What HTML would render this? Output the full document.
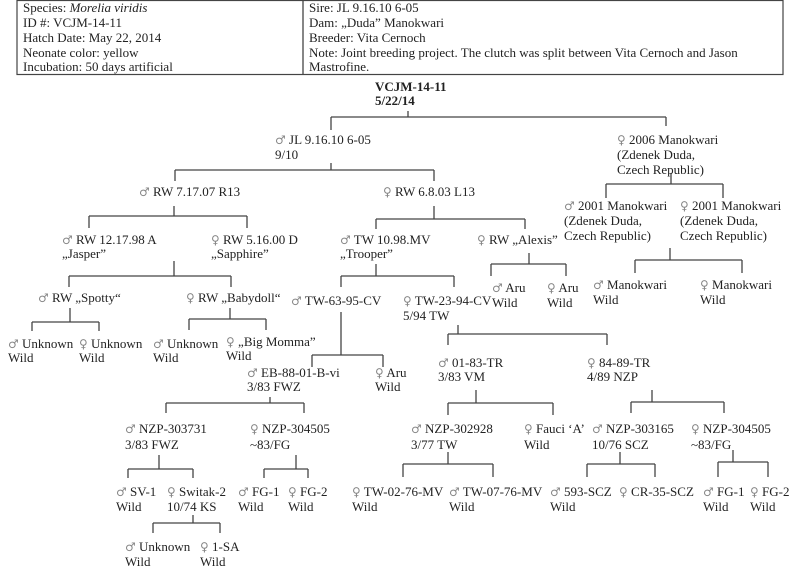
<!DOCTYPE html>
<html><head><meta charset="utf-8"><style>
html,body{margin:0;padding:0;background:#fff;width:800px;height:573px;overflow:hidden}
svg{display:block}
text{font-family:"Liberation Serif","DejaVu Serif",serif;font-size:13px;fill:#222}
.s{fill:#888;font-family:"DejaVu Sans",sans-serif;font-size:12px}
.b{font-weight:bold}
line{stroke:#444;stroke-width:1.3}
</style></head><body>
<svg width="800" height="573" viewBox="0 0 800 573" xmlns="http://www.w3.org/2000/svg">
<rect x="17" y="0.5" width="766" height="74" fill="none" stroke="#444" stroke-width="1.2"/>
<line x1="303" y1="0" x2="303" y2="74"/>
<text x="23" y="12">Species:  <tspan font-style="italic">Morelia viridis</tspan></text>
<text x="23" y="27">ID #:  VCJM-14-11</text>
<text x="23" y="42">Hatch Date:  May 22, 2014</text>
<text x="23" y="57">Neonate color:  yellow</text>
<text x="23" y="71">Incubation: 50 days artificial</text>
<text x="309" y="12">Sire:  JL 9.16.10 6-05</text>
<text x="309" y="27">Dam: „Duda” Manokwari</text>
<text x="309" y="42">Breeder: Vita Cernoch</text>
<text x="309" y="57">Note: Joint breeding project. The clutch was split between Vita Cernoch and Jason</text>
<text x="309" y="71">Mastrofine.</text>

<text x="375" y="91" class="b">VCJM-14-11</text>
<text x="375" y="105" class="b">5/22/14</text>

<g>
<line x1="408" y1="111" x2="408" y2="117"/><line x1="331" y1="117" x2="666" y2="117"/><line x1="331" y1="117" x2="331" y2="130"/><line x1="666" y1="117" x2="666" y2="126"/>
<line x1="331" y1="163" x2="331" y2="170"/><line x1="175" y1="170" x2="434" y2="170"/><line x1="175" y1="170" x2="175" y2="181"/><line x1="434" y1="170" x2="434" y2="181"/>
<line x1="671" y1="173" x2="671" y2="184"/><line x1="606" y1="184" x2="723" y2="184"/><line x1="606" y1="184" x2="606" y2="198"/><line x1="723" y1="184" x2="723" y2="198"/>
<line x1="174" y1="206" x2="174" y2="216"/><line x1="89" y1="216" x2="247" y2="216"/><line x1="89" y1="216" x2="89" y2="228"/><line x1="247" y1="216" x2="247" y2="228"/>
<line x1="434" y1="206" x2="434" y2="219"/><line x1="376" y1="219" x2="525" y2="219"/><line x1="376" y1="219" x2="376" y2="229"/><line x1="525" y1="219" x2="525" y2="229"/>
<line x1="174" y1="261" x2="174" y2="276"/><line x1="69" y1="276" x2="231" y2="276"/><line x1="69" y1="276" x2="69" y2="287"/><line x1="231" y1="276" x2="231" y2="287"/>
<line x1="376" y1="264" x2="376" y2="276"/><line x1="341" y1="276" x2="454" y2="276"/><line x1="341" y1="276" x2="341" y2="287"/><line x1="454" y1="276" x2="454" y2="287"/>
<line x1="529" y1="253" x2="529" y2="264"/><line x1="491" y1="264" x2="566" y2="264"/><line x1="491" y1="264" x2="491" y2="276"/><line x1="566" y1="264" x2="566" y2="276"/>
<line x1="670" y1="248" x2="670" y2="260"/><line x1="635" y1="260" x2="742" y2="260"/><line x1="635" y1="260" x2="635" y2="273"/><line x1="742" y1="260" x2="742" y2="273"/>
<line x1="70" y1="308" x2="70" y2="322"/><line x1="32" y1="322" x2="99" y2="322"/><line x1="32" y1="322" x2="32" y2="331"/><line x1="99" y1="322" x2="99" y2="331"/>
<line x1="230" y1="308" x2="230" y2="319"/><line x1="189" y1="319" x2="266" y2="319"/><line x1="189" y1="319" x2="189" y2="330"/><line x1="266" y1="319" x2="266" y2="330"/>
<line x1="341" y1="312" x2="341" y2="355"/><line x1="312" y1="355" x2="383" y2="355"/><line x1="312" y1="355" x2="312" y2="367"/><line x1="383" y1="355" x2="383" y2="367"/>
<line x1="458" y1="325" x2="458" y2="334"/><line x1="448" y1="334" x2="607" y2="334"/><line x1="448" y1="334" x2="448" y2="345"/><line x1="607" y1="334" x2="607" y2="345"/>
<line x1="270" y1="397" x2="270" y2="403"/><line x1="166" y1="403" x2="304" y2="403"/><line x1="166" y1="403" x2="166" y2="413"/><line x1="304" y1="403" x2="304" y2="413"/>
<line x1="476" y1="390" x2="476" y2="403"/><line x1="448" y1="403" x2="553" y2="403"/><line x1="448" y1="403" x2="448" y2="415"/><line x1="553" y1="403" x2="553" y2="415"/>
<line x1="652" y1="390" x2="652" y2="402"/><line x1="631" y1="402" x2="724" y2="402"/><line x1="631" y1="402" x2="631" y2="413"/><line x1="724" y1="402" x2="724" y2="413"/>
<line x1="159" y1="455" x2="159" y2="469"/><line x1="128" y1="469" x2="193" y2="469"/><line x1="128" y1="469" x2="128" y2="478"/><line x1="193" y1="469" x2="193" y2="478"/>
<line x1="296" y1="455" x2="296" y2="469"/><line x1="264" y1="469" x2="308" y2="469"/><line x1="264" y1="469" x2="264" y2="478"/><line x1="308" y1="469" x2="308" y2="478"/>
<line x1="448" y1="452" x2="448" y2="464"/><line x1="403" y1="464" x2="493" y2="464"/><line x1="403" y1="464" x2="403" y2="477"/><line x1="493" y1="464" x2="493" y2="477"/>
<line x1="620" y1="452" x2="620" y2="464"/><line x1="587" y1="464" x2="655" y2="464"/><line x1="587" y1="464" x2="587" y2="477"/><line x1="655" y1="464" x2="655" y2="477"/>
<line x1="733" y1="450" x2="733" y2="462"/><line x1="718" y1="462" x2="768" y2="462"/><line x1="718" y1="462" x2="718" y2="477"/><line x1="768" y1="462" x2="768" y2="477"/>
<line x1="193" y1="515" x2="193" y2="523"/><line x1="153" y1="523" x2="220" y2="523"/><line x1="153" y1="523" x2="153" y2="533"/><line x1="220" y1="523" x2="220" y2="533"/>
</g>

<text x="275" y="144"><tspan class="s">♂</tspan> JL 9.16.10 6-05</text><text x="275" y="159">9/10</text>
<text x="617" y="144"><tspan class="s">♀</tspan> 2006 Manokwari</text><text x="617" y="159">(Zdenek Duda,</text><text x="617" y="174">Czech Republic)</text>
<text x="139" y="196"><tspan class="s">♂</tspan> RW 7.17.07 R13</text>
<text x="383" y="196"><tspan class="s">♀</tspan> RW 6.8.03 L13</text>
<text x="564" y="210"><tspan class="s">♂</tspan> 2001 Manokwari</text><text x="564" y="225">(Zdenek Duda,</text><text x="564" y="240">Czech Republic)</text>
<text x="680" y="210"><tspan class="s">♀</tspan> 2001 Manokwari</text><text x="680" y="225">(Zdenek Duda,</text><text x="680" y="240">Czech Republic)</text>
<text x="62" y="244"><tspan class="s">♂</tspan> RW 12.17.98 A</text><text x="62" y="258">„Jasper”</text>
<text x="211" y="244"><tspan class="s">♀</tspan> RW 5.16.00 D</text><text x="211" y="258">„Sapphire”</text>
<text x="340" y="244"><tspan class="s">♂</tspan> TW 10.98.MV</text><text x="340" y="258">„Trooper”</text>
<text x="477" y="244"><tspan class="s">♀</tspan> RW „Alexis”</text>
<text x="492" y="292"><tspan class="s">♂</tspan> Aru</text><text x="492" y="307">Wild</text>
<text x="547" y="292"><tspan class="s">♀</tspan> Aru</text><text x="547" y="307">Wild</text>
<text x="593" y="289"><tspan class="s">♂</tspan> Manokwari</text><text x="593" y="304">Wild</text>
<text x="700" y="289"><tspan class="s">♀</tspan> Manokwari</text><text x="700" y="304">Wild</text>
<text x="38" y="302"><tspan class="s">♂</tspan> RW „Spotty“</text>
<text x="186" y="302"><tspan class="s">♀</tspan> RW „Babydoll“</text>
<text x="291" y="305"><tspan class="s">♂</tspan> TW-63-95-CV</text>
<text x="403" y="305"><tspan class="s">♀</tspan> TW-23-94-CV</text><text x="403" y="320">5/94 TW</text>
<text x="8" y="348"><tspan class="s">♂</tspan> Unknown</text><text x="8" y="362">Wild</text>
<text x="79" y="348"><tspan class="s">♀</tspan> Unknown</text><text x="79" y="362">Wild</text>
<text x="153" y="348"><tspan class="s">♂</tspan> Unknown</text><text x="153" y="362">Wild</text>
<text x="226" y="346"><tspan class="s">♀</tspan> „Big Momma”</text><text x="226" y="360">Wild</text>
<text x="438" y="367"><tspan class="s">♂</tspan> 01-83-TR</text><text x="438" y="381">3/83 VM</text>
<text x="587" y="367"><tspan class="s">♀</tspan> 84-89-TR</text><text x="587" y="381">4/89 NZP</text>
<text x="247" y="377"><tspan class="s">♂</tspan> EB-88-01-B-vi</text><text x="247" y="391">3/83 FWZ</text>
<text x="375" y="377"><tspan class="s">♀</tspan> Aru</text><text x="375" y="391">Wild</text>
<text x="125" y="433"><tspan class="s">♂</tspan> NZP-303731</text><text x="125" y="449">3/83 FWZ</text>
<text x="250" y="433"><tspan class="s">♀</tspan> NZP-304505</text><text x="250" y="449">~83/FG</text>
<text x="411" y="433"><tspan class="s">♂</tspan> NZP-302928</text><text x="411" y="449">3/77 TW</text>
<text x="524" y="433"><tspan class="s">♀</tspan> Fauci ‘A’</text><text x="524" y="449">Wild</text>
<text x="592" y="433"><tspan class="s">♂</tspan> NZP-303165</text><text x="592" y="449">10/76 SCZ</text>
<text x="691" y="433"><tspan class="s">♀</tspan> NZP-304505</text><text x="691" y="449">~83/FG</text>
<text x="116" y="496"><tspan class="s">♂</tspan> SV-1</text><text x="116" y="511">Wild</text>
<text x="167" y="496"><tspan class="s">♀</tspan> Switak-2</text><text x="167" y="511">10/74 KS</text>
<text x="238" y="496"><tspan class="s">♂</tspan> FG-1</text><text x="238" y="511">Wild</text>
<text x="288" y="496"><tspan class="s">♀</tspan> FG-2</text><text x="288" y="511">Wild</text>
<text x="352" y="496"><tspan class="s">♀</tspan> TW-02-76-MV</text><text x="352" y="511">Wild</text>
<text x="449" y="496"><tspan class="s">♂</tspan> TW-07-76-MV</text><text x="449" y="511">Wild</text>
<text x="550" y="496"><tspan class="s">♂</tspan> 593-SCZ</text><text x="550" y="511">Wild</text>
<text x="619" y="496"><tspan class="s">♀</tspan> CR-35-SCZ</text>
<text x="703" y="496"><tspan class="s">♂</tspan> FG-1</text><text x="703" y="511">Wild</text>
<text x="750" y="496"><tspan class="s">♀</tspan> FG-2</text><text x="750" y="511">Wild</text>
<text x="125" y="551"><tspan class="s">♂</tspan> Unknown</text><text x="125" y="566">Wild</text>
<text x="200" y="551"><tspan class="s">♀</tspan> 1-SA</text><text x="200" y="566">Wild</text>
</svg>
</body></html>
